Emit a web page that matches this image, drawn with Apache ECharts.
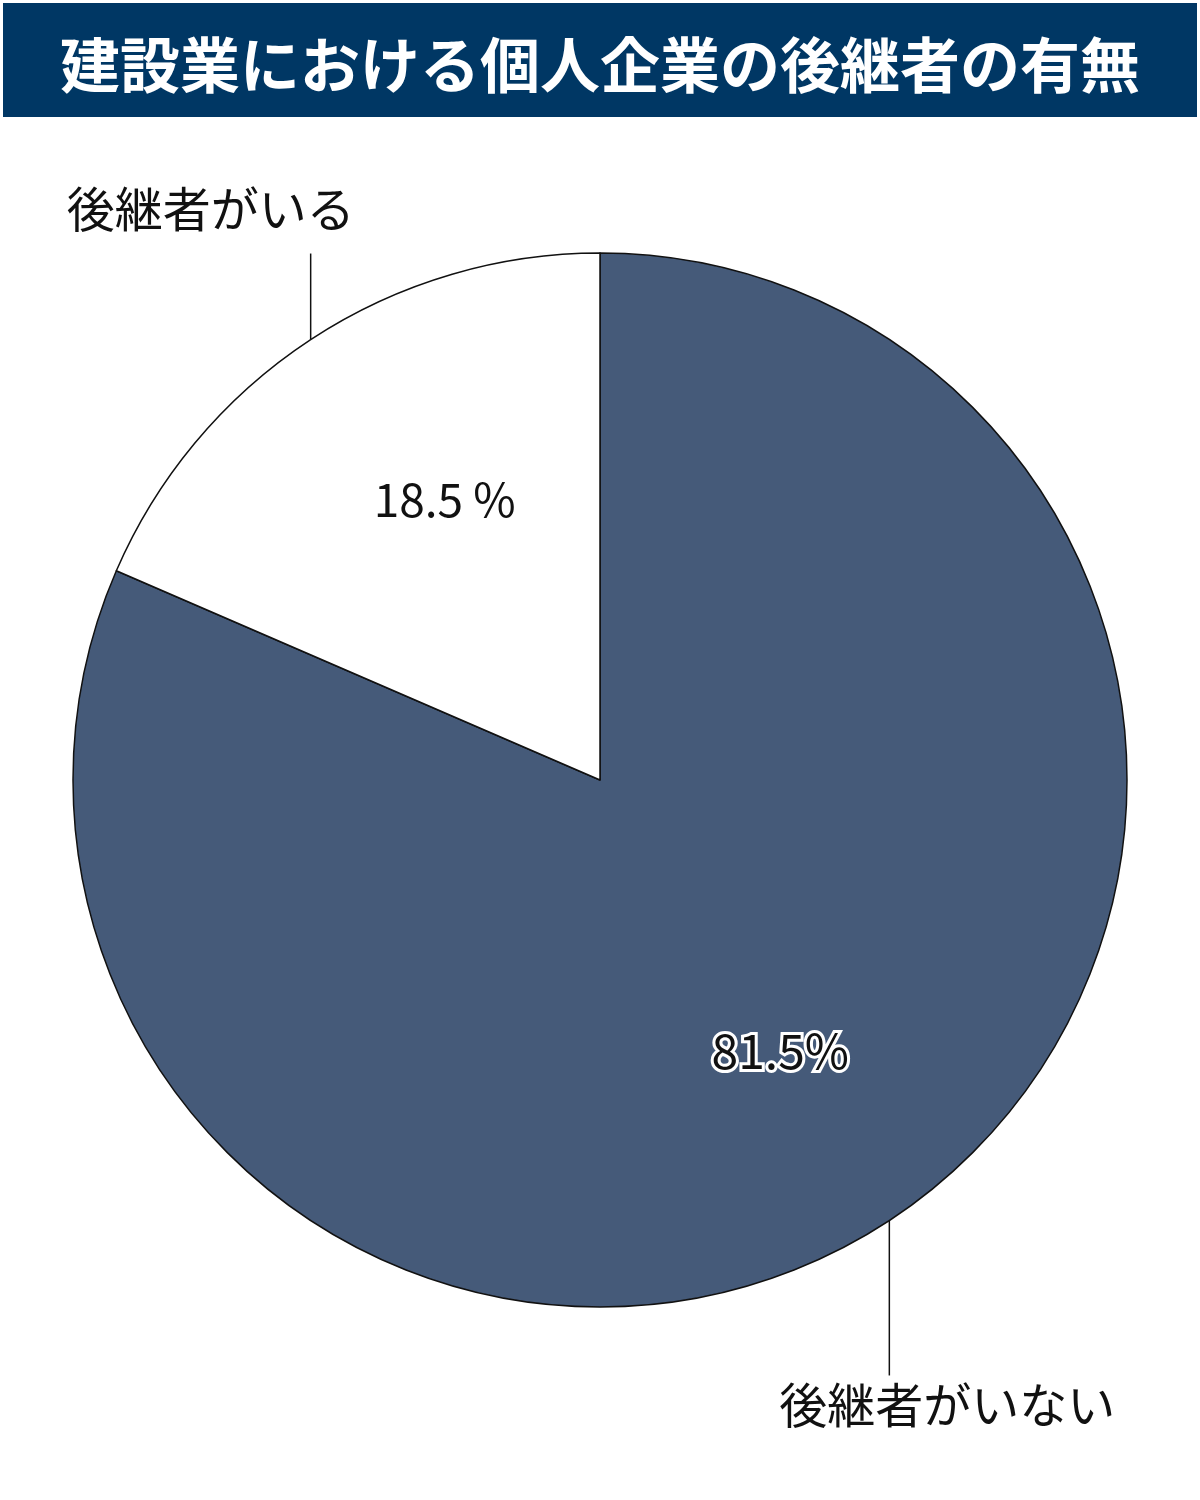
<!DOCTYPE html>
<html>
<head>
<meta charset="utf-8">
<script src="https://cdn.jsdelivr.net/npm/echarts@6/dist/echarts.min.js"></script>
<style>
  html, body { margin: 0; padding: 0; background: #fff; }
  #pie_show { width: 1200px; height: 1500px; }
</style>
</head>
<body>
<div id="pie_show"></div>
<script>
// データ
var titleText = '建設業における個人企業の後継者の有無';
var names = ['後継者がいない', '後継者がいる'];
var values = [81.5, 18.5];
var colors = ['#455a79', '#ffffff'];
var valueFormats = ['{c}%', '{c} %'];

var myChart = echarts.init(document.getElementById('pie_show'));

var data = [];
var nameData = [];
for (var i = 0; i < names.length; i++) {
    data.push({
        name: names[i],
        value: values[i],
        itemStyle: { color: colors[i] },
        label: i === 0 ? {
            // 濃い側: 白フチ付き
            formatter: valueFormats[i],
            fontFamily: 'Noto Sans CJK JP',
            fontSize: 48,
            color: '#111',
            textBorderColor: '#fff',
            textBorderWidth: 6,
            offset: [34, 48]
        } : {
            formatter: valueFormats[i],
            fontFamily: 'Noto Sans CJK JP',
            fontSize: 46,
            color: '#111',
            offset: [-9, -58]
        }
    });
    nameData.push({ name: names[i], value: values[i] });
}

var option = {
    backgroundColor: '#fff',
    graphic: [{
        type: 'rect',
        z: -1,
        shape: { x: 3, y: 3, width: 1194, height: 114 },
        style: { fill: '#003764' }
    }],
    title: {
        text: titleText,
        left: 'center',
        top: 30,
        textStyle: {
            color: '#fff',
            fontFamily: 'Noto Sans CJK JP',
            fontWeight: 'bold',
            fontSize: 60
        }
    },
    series: [{
        type: 'pie',
        center: [600, 780],
        radius: 527,
        startAngle: 90,
        clockwise: true,
        silent: true,
        itemStyle: { borderColor: '#111', borderWidth: 1.5 },
        label: { show: true, position: 'inside' },
        labelLine: { show: false },
        data: data
    }, {
        // 外側の名前ラベル（縦の引き出し線）
        type: 'pie',
        center: [600, 780],
        radius: 527,
        startAngle: 90,
        clockwise: true,
        silent: true,
        itemStyle: { color: 'rgba(0,0,0,0)', borderWidth: 0 },
        label: {
            show: true,
            position: 'outside',
            formatter: '{b}',
            overflow: 'none',
            width: 400,
            fontFamily: 'Noto Sans CJK JP',
            fontSize: 48,
            color: '#111'
        },
        labelLine: {
            show: true,
            length: 20,
            length2: 20,
            lineStyle: { color: '#111', width: 1.5 }
        },
        labelLayout: function (params) {
            var p = params.labelLinePoints;
            if (!p) return {};
            var p0 = p[0];
            if (params.dataIndex === 1) {
                var yTop = p0[1] - 86;
                return {
                    x: p0[0] - 100, y: p0[1] - 131,
                    align: 'center', verticalAlign: 'middle',
                    labelLinePoints: [p0, [p0[0], (p0[1] + yTop) / 2], [p0[0], yTop]]
                };
            }
            var yBot = p0[1] + 155;
            return {
                x: p0[0] + 58, y: p0[1] + 184,
                align: 'center', verticalAlign: 'middle',
                labelLinePoints: [p0, [p0[0], (p0[1] + yBot) / 2], [p0[0], yBot]]
            };
        },
        data: nameData
    }]
};

myChart.setOption(option);
</script>
</body>
</html>
